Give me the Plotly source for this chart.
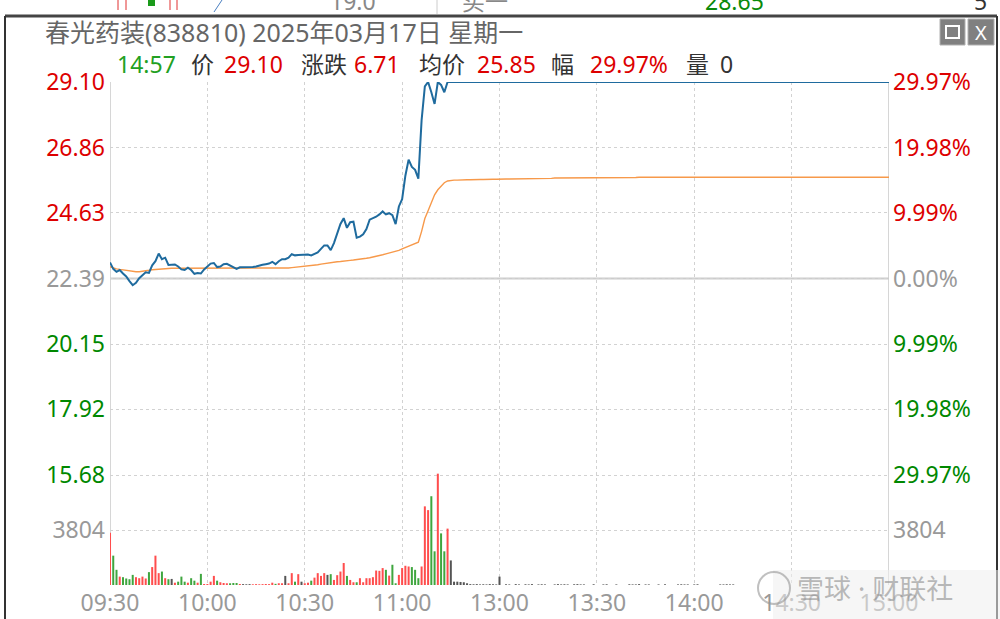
import plotly.graph_objects as go

# ---------------- data ----------------
PRE_CLOSE = 22.39
price_levels = [15.68, 17.92, 20.15, 22.39, 24.63, 26.86, 29.10]
pct_labels = ["29.97%", "19.98%", "9.99%", "0.00%", "9.99%", "19.98%", "29.97%"]
time_ticks = [0, 30, 60, 90, 120, 150, 180, 210, 240]
time_labels = ["09:30", "10:00", "10:30", "11:00", "13:00", "13:30", "14:00", "14:30", "15:00"]
vol_tick = 3804

price_am = [
    22.94, 22.72, 22.62, 22.68, 22.56, 22.46, 22.30, 22.16, 22.24, 22.40,
    22.50, 22.60, 22.58, 22.84, 22.98, 23.24, 23.05, 23.10, 22.85, 22.85,
    22.87, 22.80, 22.70, 22.68, 22.76, 22.68, 22.55, 22.58, 22.56, 22.70,
    22.80, 22.90, 22.92, 22.78, 22.80, 22.88, 22.89, 22.83, 22.78, 22.72,
    22.77, 22.77, 22.77, 22.77, 22.78, 22.80, 22.84, 22.86, 22.88, 22.90,
    22.96, 22.88, 22.98, 23.05, 23.05, 23.10, 23.22, 23.18, 23.19, 23.19,
    23.20, 23.21, 23.18, 23.22, 23.28, 23.40, 23.52, 23.52, 23.36, 23.60,
    23.90, 24.25, 24.45, 24.12, 24.31, 24.33, 23.78, 23.82, 23.90, 24.08,
    24.40, 24.44, 24.50, 24.58, 24.68, 24.58, 24.62, 24.55, 24.25, 24.85,
    25.10, 25.90, 26.45, 26.20, 26.10, 25.80, 27.80, 28.95, 29.10, 28.75,
    28.35, 29.10, 29.00, 28.75, 29.10,
]
price_limit_up = [29.10] * (241 - len(price_am))   # sealed at limit-up
price = price_am + price_limit_up

avg_price = [
    22.79, 22.75, 22.72, 22.70, 22.68, 22.66, 22.64, 22.62, 22.62, 22.62,
    22.63, 22.65, 22.67, 22.69, 22.70, 22.72, 22.73, 22.73, 22.73, 22.74,
    22.74, 22.74, 22.74, 22.73, 22.73, 22.73, 22.73, 22.73, 22.73, 22.73,
    22.73, 22.73, 22.74, 22.74, 22.74, 22.74, 22.74, 22.74, 22.74, 22.74,
    22.74, 22.74, 22.74, 22.74, 22.74, 22.74, 22.74, 22.74, 22.74, 22.74,
    22.74, 22.74, 22.74, 22.74, 22.75, 22.75, 22.76, 22.77, 22.78, 22.80,
    22.82, 22.83, 22.84, 22.85, 22.86, 22.88, 22.90, 22.91, 22.92, 22.94,
    22.96, 22.97, 22.99, 23.00, 23.01, 23.02, 23.03, 23.05, 23.06, 23.08,
    23.10, 23.12, 23.15, 23.18, 23.20, 23.23, 23.26, 23.29, 23.31, 23.35,
    23.40, 23.45, 23.50, 23.55, 23.60, 23.63, 24.00, 24.44, 24.70, 24.95,
    25.25, 25.42, 25.53, 25.66, 25.72, 25.74, 25.75, 25.75, 25.76, 25.76,
    25.76, 25.76, 25.77, 25.77, 25.77, 25.77, 25.78, 25.78, 25.78, 25.78,
    25.79, 25.79, 25.79, 25.79, 25.79, 25.80, 25.80, 25.80, 25.80, 25.80,
    25.80, 25.81, 25.81, 25.81, 25.81, 25.81, 25.81, 25.82, 25.82, 25.82,
    25.82, 25.82, 25.82, 25.82, 25.83, 25.83, 25.83, 25.83, 25.83, 25.83,
    25.83, 25.83, 25.84, 25.84, 25.84, 25.84, 25.84, 25.84, 25.84, 25.84,
    25.84, 25.84, 25.84, 25.85, 25.85, 25.85, 25.85, 25.85, 25.85, 25.85,
]
avg_tail = [25.85] * (241 - len(avg_price))
avg_price = avg_price + avg_tail

volume = [
    3620, 2030, 1050, 580, 540, 450, 400, 700, 540, 470,
    580, 450, 890, 1240, 2030, 820, 930, 470, 400, 420,
    160, 230, 580, 230, 160, 470, 300, 160, 770, 70,
    70, 230, 630, 300, 190, 140, 120, 120, 140, 140,
    70, 60, 50, 60, 50, 60, 50, 60, 70, 60,
    160, 80, 120, 120, 630, 120, 820, 230, 750, 230,
    120, 160, 300, 510, 820, 630, 820, 700, 750, 350,
    680, 930, 1520, 630, 350, 190, 190, 470, 190, 470,
    470, 540, 1000, 980, 1170, 1050, 650, 1400, 120, 700,
    1170, 1330, 1280, 1240, 1050, 470, 1280, 5440, 5180, 6140,
    2330, 7700, 3570, 2330, 3900, 1700, 230, 230, 210, 190,
    120, 60, 50, 60, 40, 50, 40, 60, 50, 40,
    580, 0, 50, 40, 0, 60, 40, 0, 50, 40,
    60, 0, 40, 50, 40, 0, 0, 40, 60, 40,
    50, 40, 0, 50, 60, 40, 40, 0, 0, 50,
    0, 0, 40, 50, 0, 0, 40, 0, 0, 0,
    50, 40, 40, 60, 0, 40, 40, 0, 0, 40,
    0, 50, 0, 0, 0, 40, 50, 40, 40, 0,
    40, 50, 0, 0, 0, 0, 0, 0, 40, 40,
    50, 40, 40, 0, 0, 0, 0, 0, 0, 0,
]
volume = volume + [0] * (241 - len(volume))

minutes = list(range(241))

# ---------------- styling ----------------
FONT = "Noto Sans, Noto Sans CJK SC, sans-serif"
RED = "#dd0000"
GREEN = "#008800"
GREY = "#999999"
DARK = "#333333"
BAR_RED = "#ff4d4d"
BAR_GREEN = "#3fa63f"
BAR_FLAT = "#555555"
LINE_BLUE = "#1f6b9e"
LINE_ORANGE = "#f7994a"

# bar colours follow the minute-to-minute price move
bar_colors = []
prev = PRE_CLOSE
for p in price:
    if p > prev + 1e-9:
        bar_colors.append(BAR_RED)
    elif p < prev - 1e-9:
        bar_colors.append(BAR_GREEN)
    else:
        bar_colors.append(BAR_FLAT)
    prev = p


def lvl_color(v):
    if abs(v - PRE_CLOSE) < 1e-6:
        return GREY
    return RED if v > PRE_CLOSE else GREEN


left_text = [f'<span style="color:{lvl_color(v)}">{v:.2f}</span>' for v in price_levels]
right_text = [f'<span style="color:{lvl_color(v)}">{t}</span>'
              for v, t in zip(price_levels, pct_labels[::-1])]

# layout geometry (pixels)
W, H = 1000, 619
L, R, T, B = 110, 889, 82, 585
step_px = (475 - 82) / 6
unit_px = step_px / ((29.10 - 15.68) / 6)
y_lo = 15.68 - (B - 475) / unit_px
vol_max = 2 * vol_tick * (B - T) / (B - 475)


def PX(x):
    return (x - L) / (R - L)


def PY(y):
    return (B - y) / (B - T)


fig = go.Figure()
fig.add_trace(go.Bar(x=minutes, y=volume, yaxis="y2", marker_color=bar_colors,
                     marker_line_width=0, width=0.62, hoverinfo="skip"))
fig.add_trace(go.Scatter(x=minutes, y=avg_price, mode="lines",
                         line=dict(color=LINE_ORANGE, width=1.4), hoverinfo="skip"))
fig.add_trace(go.Scatter(x=minutes, y=price, mode="lines",
                         line=dict(color=LINE_BLUE, width=2), hoverinfo="skip"))
fig.add_trace(go.Scatter(x=[0], y=[PRE_CLOSE], yaxis="y3", mode="markers",
                         marker=dict(opacity=0), hoverinfo="skip"))
fig.add_trace(go.Scatter(x=[0], y=[0], yaxis="y4", mode="markers",
                         marker=dict(opacity=0), hoverinfo="skip"))

grid = dict(showgrid=True, gridcolor="#d2d2d2", gridwidth=1, griddash="dot")
TICK = 23
fig.update_layout(
    width=W, height=H, autosize=False,
    margin=dict(l=L, r=W - R, t=T, b=H - B, pad=0),
    paper_bgcolor="white", plot_bgcolor="white", showlegend=False,
    font=dict(family=FONT, size=TICK, color=GREY),
    hovermode=False,
    xaxis=dict(range=[0, 240], tickvals=time_ticks, ticktext=time_labels,
               automargin=False,
               zeroline=False, showline=False, ticks="", ticklabelstandoff=2,
               tickfont=dict(size=TICK, color=GREY), **grid),
    yaxis=dict(range=[y_lo, 29.10], tickvals=price_levels, ticktext=left_text,
               automargin=False,
               zeroline=False, showline=False, ticks="", ticklabelstandoff=4,
               tickfont=dict(size=TICK), **grid),
    yaxis2=dict(range=[0, vol_max], overlaying="y", side="left",
                tickvals=[vol_tick], ticktext=[str(vol_tick)], ticklabelstandoff=4,
                automargin=False,
                zeroline=False, showline=False, ticks="",
                tickfont=dict(size=TICK, color=GREY), **grid),
    yaxis3=dict(range=[y_lo, 29.10], overlaying="y", side="right",
                tickvals=price_levels, ticktext=right_text, showgrid=False,
                ticklabelstandoff=3, automargin=False,
                zeroline=False, showline=False, ticks="", tickfont=dict(size=TICK)),
    yaxis4=dict(range=[0, vol_max], overlaying="y", side="right",
                tickvals=[vol_tick], ticktext=[str(vol_tick)], showgrid=False,
                ticklabelstandoff=3, automargin=False,
                zeroline=False, showline=False, ticks="",
                tickfont=dict(size=TICK, color=GREY)),
)

shapes = []
# plot frame borders and pre-close line
shapes.append(dict(type="line", xref="x", yref="paper", x0=0, x1=0, y0=0, y1=1,
                   line=dict(color="#c8c8c8", width=1.5), layer="below"))
shapes.append(dict(type="line", xref="x", yref="paper", x0=240, x1=240, y0=0, y1=1,
                   line=dict(color="#c8c8c8", width=1.5), layer="below"))
shapes.append(dict(type="line", xref="paper", yref="y", x0=0, x1=1,
                   y0=PRE_CLOSE, y1=PRE_CLOSE,
                   line=dict(color="#cccccc", width=2), layer="below"))
# window chrome
shapes.append(dict(type="line", xref="paper", yref="paper", x0=PX(5), x1=PX(997),
                   y0=PY(16), y1=PY(16), line=dict(color="#444444", width=3)))
shapes.append(dict(type="line", xref="paper", yref="paper", x0=PX(5), x1=PX(5),
                   y0=PY(16), y1=PY(619), line=dict(color="#333333", width=2)))
shapes.append(dict(type="line", xref="paper", yref="paper", x0=PX(997), x1=PX(997),
                   y0=PY(16), y1=PY(619), line=dict(color="#333333", width=2)))
# title-bar buttons
for x0, x1 in [(940, 965), (968, 994)]:
    shapes.append(dict(type="rect", xref="paper", yref="paper", x0=PX(x0), x1=PX(x1),
                       y0=PY(45), y1=PY(19), fillcolor="#808080",
                       line=dict(color="#b0b0b0", width=1)))
shapes.append(dict(type="rect", xref="paper", yref="paper", x0=PX(946), x1=PX(959),
                   y0=PY(38), y1=PY(26), fillcolor="rgba(0,0,0,0)",
                   line=dict(color="white", width=2)))
# fragments of the window behind (top strip)
shapes.append(dict(type="line", xref="paper", yref="paper", x0=PX(437), x1=PX(437),
                   y0=PY(0), y1=PY(14), line=dict(color="#cccccc", width=1)))
for xa, col in [(118, "#e03030"), (126, "#e03030"), (170, "#e03030"), (177, "#e03030")]:
    shapes.append(dict(type="line", xref="paper", yref="paper", x0=PX(xa), x1=PX(xa),
                       y0=PY(0), y1=PY(10), line=dict(color=col, width=1)))
shapes.append(dict(type="rect", xref="paper", yref="paper", x0=PX(148), x1=PX(155),
                   y0=PY(6), y1=PY(0), fillcolor="#1a9a1a", line=dict(width=0)))
shapes.append(dict(type="line", xref="paper", yref="paper", x0=PX(214), x1=PX(222),
                   y0=PY(12), y1=PY(0), line=dict(color="#4a7fc0", width=1)))
# watermark backdrop
shapes.append(dict(type="rect", xref="paper", yref="paper", x0=PX(773), x1=PX(1000),
                   y0=PY(619), y1=PY(570), fillcolor="rgba(238,238,238,0.55)",
                   line=dict(width=0), layer="above"))
shapes.append(dict(type="circle", xref="paper", yref="paper", x0=PX(758), x1=PX(790),
                   y0=PY(604), y1=PY(572), fillcolor="rgba(0,0,0,0)",
                   line=dict(color="rgba(150,150,150,0.6)", width=2), layer="above"))
fig.update_layout(shapes=shapes)


def ann(text, x, y, color, size=23, anchor="left"):
    return dict(text=text, xref="paper", yref="paper", x=PX(x), y=PY(y),
                xanchor=anchor, yanchor="middle", showarrow=False,
                font=dict(family=FONT, size=size, color=color))


annotations = [
    ann("春光药装(838810) 2025年03月17日 星期一", 43, 32, "#666666", 25),
    ann("X", 981, 32, "white", 20, "center"),
    ann("14:57", 115, 64, "#22a022"),
    ann("价", 189, 64, DARK),
    ann("29.10", 222, 64, RED),
    ann("涨跌", 299, 64, DARK),
    ann("6.71", 352, 64, RED),
    ann("均价", 417, 64, DARK),
    ann("25.85", 475, 64, RED),
    ann("幅", 549, 64, DARK),
    ann("29.97%", 588, 64, RED),
    ann("量", 684, 64, DARK),
    ann("0", 718, 64, DARK),
    ann("19.0", 328, 1, "#888888"),
    ann("买一", 460, 1, "#888888"),
    ann("28.65", 703, 1, "#0a8a0a"),
    ann("5", 972, 1, DARK),
    ann("雪球 · 财联社", 795, 588, "rgba(140,140,140,0.6)", 27),
]
fig.update_layout(annotations=annotations)

fig.write_html(
    "out.html",
    config={"displayModeBar": False, "responsive": False, "staticPlot": True},
    post_script="document.body.style.margin='0';document.body.style.overflow='hidden';",
)
